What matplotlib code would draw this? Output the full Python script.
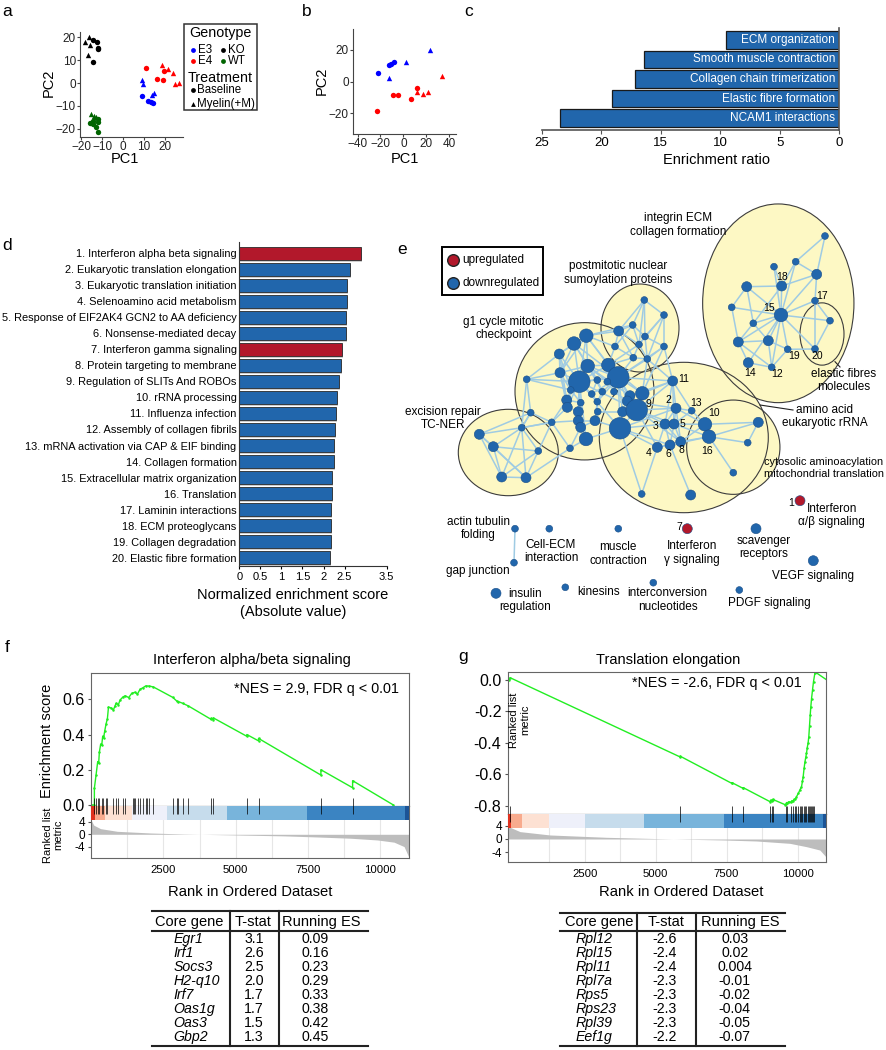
import numpy as np
import matplotlib.pyplot as plt
from matplotlib.patches import Ellipse, Rectangle

plt.rcParams['font.family'] = ['Liberation Sans', 'DejaVu Sans']

# ---------------- data ----------------
# a: PCA, all genotypes
a_geno = ['KO'] * 9 + ['WT'] * 10 + ['E3'] * 8 + ['E4'] * 9
a_treat = ['M', 'M', 'M', 'M', 'B', 'B', 'B', 'B', 'B',
           'M', 'M', 'M', 'B', 'B', 'B', 'B', 'B', 'B', 'B',
           'M', 'M', 'M', 'M', 'B', 'B', 'B', 'B',
           'B', 'B', 'B', 'B', 'M', 'M', 'M', 'M', 'M']
a_pc1 = [-18.4, -16.5, -15.7, -17.0, -14.6, -12.4, -12.2, -11.8, -14.6,
         -15.4, -14.1, -12.9, -12.0, -14.6, -12.2, -14.3, -15.9, -12.9, -12.2,
         8.9, 9.3, 13.6, 14.7, 9.2, 12.0, 13.1, 14.4,
         11.0, 16.0, 19.2, 19.7, 18.4, 21.6, 23.9, 24.8, 26.7]
a_pc2 = [17.9, 20.4, 16.8, 12.2, 19.0, 17.8, 15.2, 15.0, 9.4,
         -13.6, -14.6, -15.0, -15.7, -16.7, -17.2, -17.8, -17.5, -19.4, -21.6,
         1.3, -0.4, -5.2, -4.5, -5.7, -7.7, -8.1, -8.8,
         6.8, 1.9, 1.3, 5.1, 8.0, 6.1, 4.5, -0.4, -0.1]

# b: PCA, E3 / E4 only
b_geno = ['E3'] * 7 + ['E4'] * 9
b_treat = ['B', 'B', 'B', 'B', 'M', 'M', 'M', 'B', 'B', 'B', 'B', 'B', 'M', 'M', 'M', 'M']
b_pc1 = [-22.0, -12.4, -11.2, -8.6, -12.4, 2.2, 23.4, -23.1, -9.4, -4.5, 6.5, 11.5, 11.8, 17.3, 21.1, 33.4]
b_pc2 = [5.3, 10.6, 11.2, 12.3, 1.9, 12.0, 19.6, -18.3, -8.6, -8.6, -10.7, -3.8, -6.9, -7.8, -6.5, 3.4]

# c: enrichment ratio
c_terms = ['ECM organization', 'Smooth muscle contraction', 'Collagen chain trimerization',
           'Elastic fibre formation', 'NCAM1 interactions']
c_ratio = [9.55, 16.4, 17.2, 19.1, 23.5]

# d: normalized enrichment score
d_terms = ['1. Interferon alpha beta signaling', '2. Eukaryotic translation elongation',
           '3. Eukaryotic translation initiation', '4. Selenoamino acid metabolism',
           '5. Response of EIF2AK4 GCN2 to AA deficiency', '6. Nonsense-mediated decay',
           '7. Interferon gamma signaling', '8. Protein targeting to membrane',
           '9. Regulation of SLITs And ROBOs', '10. rRNA processing', '11. Influenza infection',
           '12. Assembly of collagen fibrils', '13. mRNA activation via CAP & EIF binding',
           '14. Collagen formation', '15. Extracellular matrix organization', '16. Translation',
           '17. Laminin interactions', '18. ECM proteoglycans', '19. Collagen degradation',
           '20. Elastic fibre formation']
d_nes = [2.90, 2.62, 2.56, 2.56, 2.53, 2.53, 2.44, 2.42, 2.36, 2.32,
         2.30, 2.28, 2.24, 2.24, 2.21, 2.20, 2.18, 2.18, 2.18, 2.16]
d_up = [True, False, False, False, False, False, True] + [False] * 13

# e: enrichment map (node positions in picture pixels)
e_nx = [825, 795.7, 774, 816.7, 746.7, 781.7, 815, 731.7, 781, 830, 753.3, 738.3, 768.3, 787.7, 815, 748.3, 771.7,
        644.3, 664, 632.7, 618.7, 645, 615, 639, 664, 633.3, 647.3,
        586.3, 574, 559.3, 526.7, 560, 579.3, 587.7, 608.3, 618.3, 597.3, 607.3, 570.7, 591.7, 602.3, 614, 630,
        642.3, 566.7, 580.7, 597.3, 627.3, 530.7, 567.3, 578.3, 597.7, 622.7, 636.7, 551.7, 578.3, 595, 580.7,
        620, 586, 570,
        521.7, 479.3, 493.3, 538.3, 501.7, 526,
        672.7, 676, 691.7, 665, 674, 657.3, 670, 680.7, 705, 709, 758.3, 747.7, 733.3, 641.7, 690.7,
        800, 515, 514, 549.3, 618.3, 687.3, 756, 813.3, 496, 565.3, 653.3, 739.3]
e_ny = [236, 261.7, 266.7, 274.3, 286.7, 286, 300.7, 307.3, 315, 320.7, 323.3, 342, 340.7, 349.3, 349, 362.7, 367.3,
        300, 315, 325, 331, 336.5, 346.5, 344.5, 346.5, 357.7, 359,
        335.7, 343.5, 354, 379.3, 372.7, 381.7, 366, 365, 377.3, 380, 381.7, 390, 394, 391.7, 391.7, 395.7,
        393.3, 400, 402.7, 401.7, 401, 412.7, 407.3, 411.7, 411.7, 411.7, 410, 422.3, 420.7, 420.7, 427.3,
        428.3, 439, 448.3,
        427.7, 434.3, 446.7, 451, 477, 477.7,
        381, 408.3, 410.7, 424, 424, 447.3, 445, 441.7, 424.3, 436.7, 422.3, 442.7, 472.7, 494, 495,
        500.7, 528.7, 562.7, 528.7, 528.7, 528.7, 528.7, 560.7, 593.3, 587.3, 582.7, 590]
e_ns = ['s', 's', 's', 'm', 'm', 'm', 's', 's', 'L', 's', 's', 'm', 'm', 's', 's', 'm', 's',
        's', 's', 's', 'm', 's', 's', 's', 's', 's', 's',
        'L', 'L', 'm', 's', 'm', 'XL', 'L', 'L', 'XL', 's', 's', 's', 's', 's', 's', 'm',
        'L', 'm', 's', 's', 'm', 's', 'm', 'm', 's', 'm', 'XL', 's', 'm', 'm', 'm',
        'XL', 'L', 's',
        's', 'm', 'm', 's', 'm', 'm',
        'm', 'm', 's', 'm', 'm', 'm', 'm', 'm', 'L', 'L', 'm', 's', 's', 's', 'm',
        'm', 's', 's', 's', 's', 'm', 'm', 'm', 'm', 's', 's', 's']
e_up_nodes = [82, 87]
e_edges = """0-1 0-3 1-3 1-5 2-5 3-5 3-6 4-5 4-7 4-10 4-8 5-10 6-9 6-14 7-11 8-1 8-2 8-3 8-5 8-6 8-7
8-9 8-10 8-11 8-12 8-13 8-14 8-15 8-16 9-14 10-11 10-12 11-12 11-15 11-16 12-13 12-16 13-16 13-14 15-16
17-18 17-19 17-20 17-21 17-23 18-21 18-23 18-24 18-26 19-20 19-21 19-22 19-23 20-22 20-23 20-25 21-23
21-24 21-26 22-25 23-25 23-26 24-26 25-26 22-34 25-35 26-67 24-67 26-43
27-28 27-29 27-31 27-32 27-33 27-34 27-35 27-20 27-22 27-19 28-29 28-31 28-32 28-33 28-35 28-36
29-30 29-31 29-32 29-38 29-44 30-31 30-48 30-32 30-38 31-32 31-38 31-44 31-49 31-33
32-33 32-34 32-35 32-36 32-38 32-39 32-44 32-45 32-49 32-50 32-55 32-57 32-58 32-53 32-59
33-34 33-35 33-36 33-37 33-40 33-42 34-35 34-37 34-41 34-42 34-43 34-23 34-25
35-36 35-37 35-39 35-40 35-41 35-42 35-43 35-46 35-47 35-52 35-53 35-58 35-26 35-24
36-39 36-40 37-41 38-44 38-45 39-46 40-46 41-47 42-47 42-43 43-53 43-67 43-24
44-49 44-45 44-54 45-50 45-55 46-51 46-56 47-52 47-53 48-54 48-61 48-62 49-50 49-54 50-55 50-57
51-56 51-52 52-53 52-58 53-58 53-67 53-68 53-70 53-71 53-72 54-55 54-60 54-61 55-56 55-57 56-57
56-58 57-59 57-60 58-59 58-70 58-72 58-73 58-80 59-60 60-66 35-67 58-68 53-74 42-67 47-68
61-62 61-63 61-64 61-65 61-66 62-63 62-65 62-66 63-65 63-66 63-64 64-66 65-66 64-65 61-30 61-54 64-54 61-48
67-68 67-70 67-71 67-69 68-69 68-70 68-71 68-74 69-71 69-75 70-71 70-72 70-73 71-73 71-74 71-75 72-73
73-74 74-75 74-76 75-76 75-77 76-77 76-78 76-79 70-74 72-74 72-80 73-81 76-73 68-75 77-78 71-76 83-84"""
e_num_text = ['18', '17', '15', '19', '20', '14', '12', '11', '2', '13', '3', '5', '4', '6', '8', '10', '16', '9', '1', '7']
e_num_x = [781.7, 821.7, 769.3, 794, 817.7, 750, 777.3, 683.3, 668.7, 696, 655.7, 682.7, 648.7, 668.3, 681.7, 714.3, 706.7, 648.3, 790.7, 679]
e_num_y = [277.3, 296, 308.3, 356, 356, 372.7, 374.3, 379, 400, 402.7, 425.7, 424, 453.3, 454, 450, 413.3, 450.7, 404, 502.7, 527.3]
e_lab_text = ['integrin ECM\ncollagen formation', 'postmitotic nuclear\nsumoylation proteins',
              'g1 cycle mitotic\ncheckpoint', 'excision repair\nTC-NER', 'amino acid\neukaryotic rRNA',
              'elastic fibres\nmolecules', 'cytosolic aminoacylation\nmitochondrial translation',
              'Interferon\nα/β signaling', 'actin tubulin\nfolding', 'gap junction', 'Cell-ECM\ninteraction',
              'muscle\ncontraction', 'Interferon\nγ signaling', 'scavenger\nreceptors', 'VEGF signaling',
              'insulin\nregulation', 'kinesins', 'interconversion\nnucleotides', 'PDGF signaling']
e_lab_x = [678.3, 618.3, 503.3, 443.3, 825, 843.3, 824, 831.7, 478.3, 478.3, 551, 618.3, 691.7, 763.3, 813.3,
           525, 598.3, 667.7, 769]
e_lab_y = [225, 273, 328.3, 418.7, 416.3, 380.5, 468, 515.8, 528.7, 570.7, 551.2, 554, 553, 547.3, 576,
           600.8, 592, 600, 603.3]
e_ell = [(778.3, 303.3, 151.3, 198.7), (822, 334, 44, 62.3), (640, 328, 78, 88), (584.5, 391.3, 139, 137.3),
         (508.3, 452.5, 100, 86.4), (683.8, 437.5, 169, 150.4), (733.3, 447.2, 93.3, 94.3)]

# f: GSEA interferon alpha/beta
f_es_rank = [0, 112, 112, 170, 227, 260, 285, 330, 366, 400, 430, 470, 516, 562, 600, 700, 770, 820, 862, 943,
             1000, 1093, 1173, 1300, 1405, 1519, 1600, 1692, 1784, 1888, 2015, 2153, 2822, 2961, 3018, 3168,
             3364, 4149, 4149, 4230, 4230, 5383, 5383, 5787, 5787, 7944, 7944, 9040, 9040, 10450]
f_es_val = [0, 0, 0.095, 0.17, 0.246, 0.237, 0.30, 0.346, 0.34, 0.39, 0.38, 0.42, 0.46, 0.49, 0.556, 0.55,
            0.54, 0.56, 0.577, 0.57, 0.596, 0.612, 0.62, 0.61, 0.634, 0.64, 0.63, 0.657, 0.665, 0.676, 0.675,
            0.67, 0.611, 0.59, 0.587, 0.577, 0.562, 0.486, 0.492, 0.485, 0.494, 0.39, 0.40, 0.364, 0.378,
            0.17, 0.20, 0.098, 0.138, 0.0]
f_hits = [112, 170, 227, 285, 366, 423, 516, 562, 770, 862, 943, 1093, 1173, 1462, 1485, 1519, 1634, 1692,
          1784, 1888, 1946, 2015, 2153, 2822, 2961, 3018, 3168, 3364, 4149, 4230, 5383, 5787, 7944, 9040]
f_met_rank = [0, 92, 322, 900, 2055, 3208, 4360, 5515, 6668, 7821, 8974, 9896, 10473, 10819, 11000]
f_met_val = [4.5, 2.9, 1.8, 0.95, 0.42, 0.1, -0.1, -0.3, -0.5, -0.85, -1.25, -1.8, -2.5, -3.9, -7.6]
f_cb_edges = [-15, 135, 481, 1405, 2616, 4713, 7460, 10862, 11000]

# g: GSEA translation elongation
g_es_rank = [-150, -130, 5864, 5864, 7683, 7683, 8082, 8082, 9033, 9050, 9091, 9120, 9150, 9550, 9585, 9610,
             9643, 9680, 9761, 9800, 9843, 9880, 9913, 9961, 10030, 10080, 10137, 10170, 10196, 10230, 10260,
             10290, 10313, 10340, 10370, 10395, 10420, 10445, 10466, 10490, 10525, 10560, 10607, 10642, 11030]
g_es_val = [0, 0.015, -0.49, -0.485, -0.658, -0.653, -0.69, -0.685, -0.775, -0.765, -0.77, -0.76, -0.762,
            -0.793, -0.79, -0.78, -0.785, -0.775, -0.778, -0.768, -0.77, -0.76, -0.76, -0.743, -0.72, -0.70,
            -0.68, -0.645, -0.615, -0.56, -0.52, -0.49, -0.467, -0.43, -0.40, -0.36, -0.29, -0.22, -0.17,
            -0.12, -0.064, -0.01, 0.042, 0.048, 0.0]
g_hits = [-130, 5864, 7683, 8082, 9033, 9091, 9150, 9585, 9643, 9761, 9843, 9913, 9960, 10030, 10077, 10124,
          10171, 10218, 10265, 10312, 10359, 10406, 10441, 10476, 10511, 10546, 10582]
g_met_rank = [-182, 222, 1278, 3272, 5620, 7380, 8554, 9728, 10315, 10784, 10995]
g_met_val = [3.7, 2.2, 1.2, 0.5, 0.0, -0.3, -0.6, -1.3, -2.3, -3.3, -5.3]
g_cb_edges = [-210, -95, 281, 1255, 2511, 4600, 7418, 10904, 11000]
cb_colors = ['#e0321f', '#f8ab8e', '#fde1d3', '#eef0fa', '#c6dcec', '#78b4db', '#3b84c2', '#1c5496']

# core gene tables
f_genes = ['Egr1', 'Irf1', 'Socs3', 'H2-q10', 'Irf7', 'Oas1g', 'Oas3', 'Gbp2']
f_tstat = ['3.1', '2.6', '2.5', '2.0', '1.7', '1.7', '1.5', '1.3']
f_run = ['0.09', '0.16', '0.23', '0.29', '0.33', '0.38', '0.42', '0.45']
g_genes = ['Rpl12', 'Rpl15', 'Rpl11', 'Rpl7a', 'Rps5', 'Rps23', 'Rpl39', 'Eef1g']
g_tstat = ['-2.6', '-2.4', '-2.4', '-2.3', '-2.3', '-2.3', '-2.3', '-2.2']
g_run = ['0.03', '0.02', '0.004', '-0.01', '-0.02', '-0.04', '-0.05', '-0.07']

BLUE = '#2166ac'
RED = '#b2182b'
W, H = 886, 1050
fig = plt.figure(figsize=(W / 100, H / 100), dpi=100)


def px_axes(l, t, r, b):
    return fig.add_axes([l / W, 1 - b / H, (r - l) / W, (b - t) / H])


geno_col = {'E3': '#0000ff', 'E4': '#ff0000', 'KO': '#000000', 'WT': '#006400'}
treat_mk = {'B': 'o', 'M': '^'}


def pca(ax, geno, treat, x, y):
    for i in range(len(x)):
        ax.scatter(x[i], y[i], color=geno_col[geno[i]], marker=treat_mk[treat[i]], s=15, linewidths=0)
    ax.spines[['top', 'right']].set_visible(False)
    ax.spines[['left', 'bottom']].set_color('#444444')
    ax.tick_params(labelsize=8.5, length=2, width=0.8, color='#444444', pad=1, labelcolor='#222222')


# ---- a ----
ax = px_axes(80, 32, 183, 137)
pca(ax, a_geno, a_treat, a_pc1, a_pc2)
ax.set_xlim(-20.6, 28.6)
ax.set_ylim(-23.6, 22.4)
ax.set_xticks([-20, -10, 0, 10, 20])
ax.set_yticks([-20, -10, 0, 10, 20])

# ---- b ----
ax = px_axes(353, 29, 456, 134)
pca(ax, b_geno, b_treat, b_pc1, b_pc2)
ax.set_xlim(-44, 46)
ax.set_ylim(-33, 33)
ax.set_xticks([-40, -20, 0, 20, 40])
ax.set_yticks([-20, 0, 20])

# ---- c ----
ax = px_axes(541.7, 28, 839.3, 130)
rows = np.arange(len(c_terms))
ax.barh(rows, c_ratio, height=0.9, color=BLUE, edgecolor='#1a1a1a', linewidth=0.9)
for i, t in enumerate(c_terms):
    ax.text(0.35, i, t, ha='right', va='center', color='white', fontsize=8.5)
ax.set_xlim(25, 0)
ax.set_ylim(4.6, -0.6)
ax.set_yticks([])
ax.set_xticks([25, 20, 15, 10, 5, 0])
ax.spines[['top', 'left']].set_visible(False)
ax.spines[['bottom', 'right']].set_color('#555555')
ax.spines[['bottom', 'right']].set_linewidth(1.2)
ax.tick_params(labelsize=9.5, length=3, color='#555555', pad=2)

# ---- d ----
ax = px_axes(239.3, 241.7, 386.7, 566)
rows = np.arange(1, len(d_terms) + 1)
cols = [RED if u else BLUE for u in d_up]
ax.barh(rows + 0.12, np.array(d_nes) + 0.025, height=0.83, color='#cfcfcf', zorder=1)
ax.barh(rows, d_nes, height=0.83, color=cols, edgecolor='#2a2a2a', linewidth=0.6, zorder=2)
ax.set_xlim(0, 3.5)
ax.set_ylim(20.52, 0.28)
ax.set_yticks(rows)
ax.set_yticklabels(d_terms, fontsize=7.9)
ax.set_xticks([0, 0.5, 1, 1.5, 2, 2.5, 3.5])
ax.set_xticklabels(['0', '0.5', '1', '1.5', '2', '2.5', '3.5'])
ax.tick_params(axis='y', length=0, pad=2)
ax.tick_params(axis='x', labelsize=8, length=2.5, pad=2)
ax.spines[['top', 'right']].set_visible(False)
ax.spines[['left', 'bottom']].set_color('#333333')


# ---- f / g GSEA ----
def gsea(l, r, top, cb_top, cb_bot, bot, xlim, es_lim, es_ticks, rank, es, hits, mrank, mval, mlim, edges):
    ax_es = px_axes(l, top, r, cb_top)
    ax_es.plot(rank, es, color='#22ee22', lw=1.0, marker='o', ms=1.8, mew=0)
    ax_es.set_xlim(*xlim)
    ax_es.set_ylim(*es_lim)
    ax_es.set_xticks([])
    ax_es.set_yticks(es_ticks)
    ax_es.set_yticklabels(['%.1f' % v for v in es_ticks])
    ax_es.tick_params(labelsize=11.5, length=2.5, pad=2, color='#555555')
    for s in ax_es.spines.values():
        s.set_color('#666666')

    ax_m = px_axes(l, cb_top, r, bot)
    for xv in np.arange(1250, xlim[1], 1250):
        ax_m.axvline(xv, color='#e6e6e6', lw=0.8, zorder=0)
    ax_m.fill_between(mrank, 0, mval, color='#bdbdbd', lw=0, zorder=1)
    ax_m.set_xlim(*xlim)
    ax_m.set_ylim(*mlim)
    ax_m.set_yticks([4, 0, -4])
    ax_m.set_yticklabels(['4', '0', '-4'])
    ax_m.set_xticks([2500, 5000, 7500, 10000])
    ax_m.tick_params(axis='y', labelsize=8.5, length=2, pad=2, color='#555555')
    ax_m.tick_params(axis='x', labelsize=8.2, length=0, pad=5)
    for s in ax_m.spines.values():
        s.set_color('#666666')

    ax_h = px_axes(l, cb_top - 8, r, cb_bot)
    span = cb_bot - cb_top + 8
    for i in range(len(edges) - 1):
        ax_h.add_patch(Rectangle((edges[i], 8), edges[i + 1] - edges[i], span - 8,
                                 color=cb_colors[i], lw=0))
    ax_h.vlines(hits, 0, 8 + (span - 8) * 0.55, color='black', lw=0.6, alpha=0.85)
    ax_h.set_xlim(*xlim)
    ax_h.set_ylim(span, 0)
    ax_h.axis('off')
    ax_h.patch.set_alpha(0)


gsea(90.7, 409.3, 672.7, 805.7, 820, 858.3, (-15, 11000), (-0.004, 0.751), [0, 0.2, 0.4, 0.6],
     f_es_rank, f_es_val, f_hits, f_met_rank, f_met_val, (-7.62, 9.08), f_cb_edges)
gsea(507.7, 826, 672.3, 814, 828.3, 861.7, (-210, 11000), (-0.853, 0.049), [-0.8, -0.6, -0.4, -0.2, 0.0],
     g_es_rank, g_es_val, g_hits, g_met_rank, g_met_val, (-6.78, 7.46), g_cb_edges)

# ---- overlay for free text, e network and tables ----
ov = fig.add_axes([0, 0, 1, 1])
ov.set_xlim(0, W)
ov.set_ylim(H, 0)
ov.axis('off')
ov.patch.set_alpha(0)

for lab, x, y in [('a', 7, 12), ('b', 307, 12), ('c', 469, 11), ('d', 7, 245), ('e', 402, 250),
                  ('f', 7, 647), ('g', 463, 657)]:
    ov.text(x, y, lab, fontsize=12.5, ha='center', va='center')

ov.text(49, 83, 'PC2', rotation=90, fontsize=10.5, ha='center', va='center')
ov.text(125, 159, 'PC1', fontsize=10.5, ha='center', va='center')
ov.text(321.7, 81, 'PC2', rotation=90, fontsize=10.5, ha='center', va='center')
ov.text(405, 159, 'PC1', fontsize=10.5, ha='center', va='center')

# legend of a
ov.add_patch(Rectangle((184.3, 24.3), 72.4, 85.7, fill=False, ec='#333333', lw=1.1))
ov.text(220, 33.5, 'Genotype', fontsize=10.3, ha='center', va='center')
ov.text(220, 77.7, 'Treatment', fontsize=10.3, ha='center', va='center')
for name, x, y in [('E3', 193.3, 50), ('KO', 222.7, 50), ('E4', 193.3, 60.5), ('WT', 222.7, 60.5)]:
    ov.scatter(x, y, color=geno_col[name], s=12, linewidths=0)
    ov.text(x + 5, y, name, fontsize=8.3, va='center')
ov.scatter(193.3, 90.3, color='black', s=12, marker='o', linewidths=0)
ov.text(197.5, 90.3, 'Baseline', fontsize=8.3, va='center')
ov.scatter(193.3, 104, color='black', s=12, marker='^', linewidths=0)
ov.text(197.5, 104, 'Myelin(+M)', fontsize=8.3, va='center')

ov.text(716.7, 160, 'Enrichment ratio', fontsize=10.5, ha='center', va='center')
ov.text(293, 595, 'Normalized enrichment score', fontsize=10.5, ha='center', va='center')
ov.text(293, 612, '(Absolute value)', fontsize=10.5, ha='center', va='center')

# e: enrichment map
for cx, cy, w, h in e_ell:
    ov.add_patch(Ellipse((cx, cy), w, h, facecolor='#fdf8c4', edgecolor='none', zorder=1))
for cx, cy, w, h in e_ell:
    ov.add_patch(Ellipse((cx, cy), w, h, facecolor='none', edgecolor='#3c3c3c', lw=0.8, zorder=2))
for pair in e_edges.split():
    i, j = [int(v) for v in pair.split('-')]
    ov.plot([e_nx[i], e_nx[j]], [e_ny[i], e_ny[j]], color='#9fcbe3', lw=1.1, zorder=3)
size_map = {'s': 24, 'm': 52, 'L': 95, 'XL': 240}
node_col = [RED if i in e_up_nodes else BLUE for i in range(len(e_nx))]
ov.scatter(e_nx, e_ny, s=[size_map[v] for v in e_ns], c=node_col, edgecolors='#1b4f88',
           linewidths=0.4, zorder=4)
for t, x, y in zip(e_num_text, e_num_x, e_num_y):
    ov.text(x, y, t, fontsize=7.5, ha='center', va='center', zorder=5)
for k, (t, x, y) in enumerate(zip(e_lab_text, e_lab_x, e_lab_y)):
    fs = 7.9 if t.startswith('cytosolic') else 8.5
    ov.text(x, y, t, fontsize=fs, ha='center', va='center', linespacing=1.15, zorder=5)
ov.plot([760, 793], [405, 410], color='#222222', lw=0.8, zorder=5)
ov.plot([835, 840], [361.7, 367], color='#222222', lw=0.8, zorder=5)
# e legend
ov.add_patch(Rectangle((441.7, 246.7), 101.6, 48.3, fill=False, ec='black', lw=1.4, zorder=5))
ov.scatter([453.3], [260], s=70, color=RED, edgecolors='#222222', linewidths=1.0, zorder=6)
ov.scatter([453.3], [283.3], s=70, color=BLUE, edgecolors='#222222', linewidths=1.0, zorder=6)
ov.text(462.5, 260, 'upregulated', fontsize=8.5, va='center', zorder=6)
ov.text(462.5, 283.3, 'downregulated', fontsize=8.5, va='center', zorder=6)

# f / g text
ov.text(251.7, 660, 'Interferon alpha/beta signaling', fontsize=10.5, ha='center', va='center')
ov.text(667.7, 660, 'Translation elongation', fontsize=10.5, ha='center', va='center')
ov.text(399.3, 689.3, '*NES = 2.9, FDR q < 0.01', fontsize=10.4, ha='right', va='center')
ov.text(801.7, 683.3, '*NES = -2.6, FDR q < 0.01', fontsize=10.4, ha='right', va='center')
ov.text(46.7, 740.8, 'Enrichment score', rotation=90, fontsize=10.5, ha='center', va='center')
ov.text(53, 835, 'Ranked list\nmetric', rotation=90, fontsize=8, ha='center', va='center', linespacing=1.1)
ov.text(519.7, 720, 'Ranked list\nmetric', rotation=90, fontsize=8, ha='center', va='center', linespacing=1.1)
ov.text(250, 892, 'Rank in Ordered Dataset', fontsize=10.6, ha='center', va='center')
ov.text(680.7, 892.3, 'Rank in Ordered Dataset', fontsize=10.6, ha='center', va='center')


# tables
def table(x0, x1, v1, v2, top, hc, gx, tx, ex, genes, tstat, run):
    lw = 1.5
    ov.plot([x0, x1], [top, top], color='#222222', lw=lw)
    ov.plot([x0, x1], [930.7, 930.7], color='#222222', lw=lw)
    ov.plot([x0, x1], [1046.3, 1046.3], color='#222222', lw=lw)
    ov.plot([v1, v1], [top, 1046.3], color='#222222', lw=lw)
    ov.plot([v2, v2], [top, 1046.3], color='#222222', lw=lw)
    for t, x in zip(['Core gene', 'T-stat', 'Running ES'], hc):
        ov.text(x, 922, t, fontsize=10.5, ha='center', va='center')
    for i in range(len(genes)):
        y = 939 + i * 14.05
        ov.text(gx, y, genes[i], fontsize=10.2, ha='left', va='center', style='italic')
        ov.text(tx, y, tstat[i], fontsize=10.2, ha='center', va='center')
        ov.text(ex, y, run[i], fontsize=10.2, ha='center', va='center')


table(151.7, 367.7, 230, 279.3, 911, [189.3, 253.3, 321.7], 173.3, 254, 315.5, f_genes, f_tstat, f_run)
table(559.7, 784.7, 637, 696.3, 912.7, [598.7, 666.3, 740.7], 575.7, 664.7, 734.7, g_genes, g_tstat, g_run)

fig.savefig('out.png', dpi=100)
